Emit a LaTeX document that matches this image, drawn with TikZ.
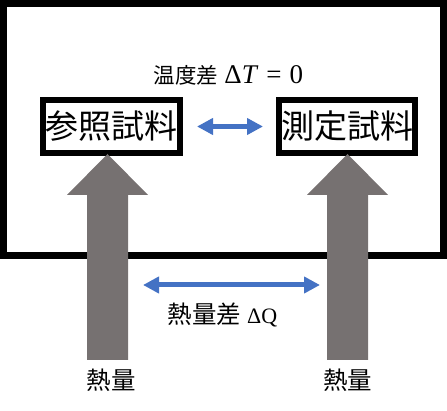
\documentclass[tikz,border=0pt]{standalone}
\usepackage{fontspec}
\newfontfamily\jp{Noto Sans CJK JP}
\newfontfamily\mser{Liberation Serif}
\usetikzlibrary{arrows.meta}
\definecolor{heatgray}{HTML}{767171}
\definecolor{arrblue}{HTML}{4472C4}
\tikzset{
  samplebox/.style={draw=black, line width=6pt, minimum width=137pt, minimum height=53pt, inner sep=0pt, font=\jp\fontsize{33}{35}\selectfont},
  blue2/.style={draw=arrblue, line width=5pt, {Triangle[width=16pt,length=16pt]}-{Triangle[width=16pt,length=16pt]}},
  heatarrow/.style={fill=heatgray, draw=none},
  lbl/.style={inner sep=0pt}
}
\begin{document}
\begin{tikzpicture}[x=1pt,y=-1pt]
\useasboundingbox (0,0) rectangle (447,411);
% outer frame
\draw[line width=7pt] (3.5,3.5) rectangle (443.5,256);
% samples
\node[samplebox] (ref) at (111.5,126.5) {参照試料};
\node[samplebox, minimum width=136pt] (meas) at (347,126.5) {測定試料};
\node[lbl] (dT) at (228.5,75) {\jp\fontsize{21.5}{23}\selectfont 温度差\hspace{6pt}{\mser\fontsize{27}{29}\selectfont Δ\textit{T}\hspace{8pt}=\hspace{8pt}0}};
\draw[blue2, shorten <=14pt, shorten >=13pt] (ref.east) -- (meas.west);
% heat arrows
\coordinate (hl) at (107.5,360);
\coordinate (hr) at (347.5,360);
\fill[heatarrow] (hl) ++(-20.5,0) -- ++(0,-165) -- ++(-20,0) -- ++(40.5,-41) -- ++(40.5,41) -- ++(-20,0) -- ++(0,165) -- cycle;
\fill[heatarrow] (hr) ++(-20.5,0) -- ++(0,-165) -- ++(-20,0) -- ++(40.5,-41) -- ++(40.5,41) -- ++(-20,0) -- ++(0,165) -- cycle;
\coordinate (ql) at (143,285);
\coordinate (qr) at (320,285);
\draw[blue2] (ql) -- (qr);
\node[lbl] (dQ) at (222.5,315) {\jp\fontsize{24.5}{26}\selectfont 熱量差\hspace{6pt}{\mser\fontsize{22}{24}\selectfont ΔQ}};
\node[lbl, font=\jp\fontsize{24.5}{26}\selectfont] (heatL) at (111,380) {熱量};
\node[lbl, font=\jp\fontsize{24.5}{26}\selectfont] (heatR) at (347.5,380) {熱量};
\end{tikzpicture}
\end{document}
